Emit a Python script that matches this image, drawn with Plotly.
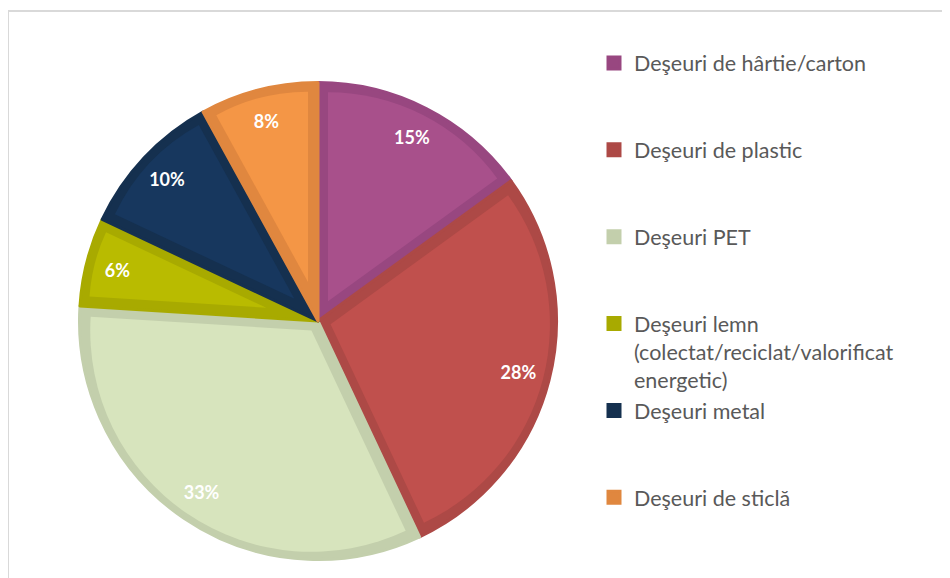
import math
import plotly.graph_objects as go

# ---- data ----
categories = [
    "Deşeuri de hârtie/carton",
    "Deşeuri de plastic",
    "Deşeuri PET",
    "Deşeuri lemn (colectat/reciclat/valorificat energetic)",
    "Deşeuri metal",
    "Deşeuri de sticlă",
]
legend_labels = [
    "Deşeuri de hârtie/carton<br> <br> ",
    "Deşeuri de plastic<br> <br> ",
    "Deşeuri PET<br> <br> ",
    "Deşeuri lemn<br>(colectat/reciclat/valorificat<br>energetic)",
    "Deşeuri metal<br> <br> ",
    "Deşeuri de sticlă<br> <br> ",
]
values = [15, 28, 33, 6, 10, 8]

fill_colors = ["#A8508B", "#C0504D", "#D7E4BD", "#B9BB00", "#17375E", "#F49646"]
edge_colors = ["#984780", "#AD4946", "#C3CFAC", "#A8AA00", "#15304F", "#E0873F"]

# page body has an 8px margin; figure sized to fill the rest of the window
OFF = 8
W, H = 950 - OFF, 578 - OFF
cx, cy = 318 - OFF, 321 - OFF   # pie centre in figure px
R = 240                          # outer radius
GAP = 10                         # inset border width
LABEL_R = 207                    # radius of percentage labels

TRANSPARENT = "rgba(0,0,0,0)"


def dom(r):
    return dict(x=[(cx - r) / W, (cx + r) / W],
                y=[(H - cy - r) / H, (H - cy + r) / H])


fig = go.Figure()

# base pie in the darker border colours
fig.add_trace(go.Pie(
    labels=legend_labels,
    values=values,
    customdata=categories,
    sort=False,
    direction="clockwise",
    rotation=0,
    domain=dom(R - 1.5),
    marker=dict(colors=edge_colors, line=dict(color=edge_colors, width=3)),
    textinfo="none",
    hovertemplate="%{customdata}: %{percent}<extra></extra>",
))

# lighter inner wedge of each slice, pulled out so that it sits inset
total = sum(values)
n = len(values)
for k in range(n):
    half = math.pi * values[k] / total
    d = GAP / math.sin(half)                       # pull distance (px)
    r_in = R - GAP - d * (1 + math.cos(half)) / 2  # inner wedge radius (px)
    pulls = [0.0] * n
    pulls[k] = d / r_in
    colors = [TRANSPARENT] * n
    colors[k] = fill_colors[k]
    fig.add_trace(go.Pie(
        labels=legend_labels,
        values=values,
        customdata=categories,
        sort=False,
        direction="clockwise",
        rotation=0,
        domain=dom(r_in * (1 + pulls[k])),
        pull=pulls,
        marker=dict(colors=colors, line=dict(width=0)),
        textinfo="none",
        showlegend=False,
        hovertemplate="%{customdata}: %{percent}<extra></extra>",
    ))

# transparent ring carrying the percentage labels (ring centre = LABEL_R)
hole = 2 * LABEL_R / R - 1
fig.add_trace(go.Pie(
    labels=legend_labels,
    values=values,
    sort=False,
    direction="clockwise",
    rotation=0,
    domain=dom(R),
    hole=hole,
    marker=dict(colors=[TRANSPARENT] * n, line=dict(width=0)),
    textinfo="percent",
    textposition="inside",
    insidetextorientation="horizontal",
    textfont=dict(family="Lato", size=18, color="white", weight="bold"),
    showlegend=False,
    hoverinfo="skip",
))

fig.update_layout(
    width=W, height=H,
    margin=dict(l=0, r=0, t=0, b=0),
    paper_bgcolor="white",
    plot_bgcolor="white",
    legend=dict(
        x=586 / W, xanchor="left",
        y=(H - 34.5) / H, yanchor="top",
        valign="top",
        font=dict(family="Lato", size=21.5, color="#595959"),
        bgcolor="rgba(0,0,0,0)",
    ),
    shapes=[
        dict(type="line", xref="paper", yref="paper",
             x0=0, x1=1.02, y0=(H - 3) / H, y1=(H - 3) / H,
             line=dict(color="#D9D9D9", width=2)),
        dict(type="line", xref="paper", yref="paper",
             x0=0, x1=0, y0=-0.02, y1=(H - 3) / H,
             line=dict(color="#D9D9D9", width=2)),
    ],
)

fig.write_html("out.html")
